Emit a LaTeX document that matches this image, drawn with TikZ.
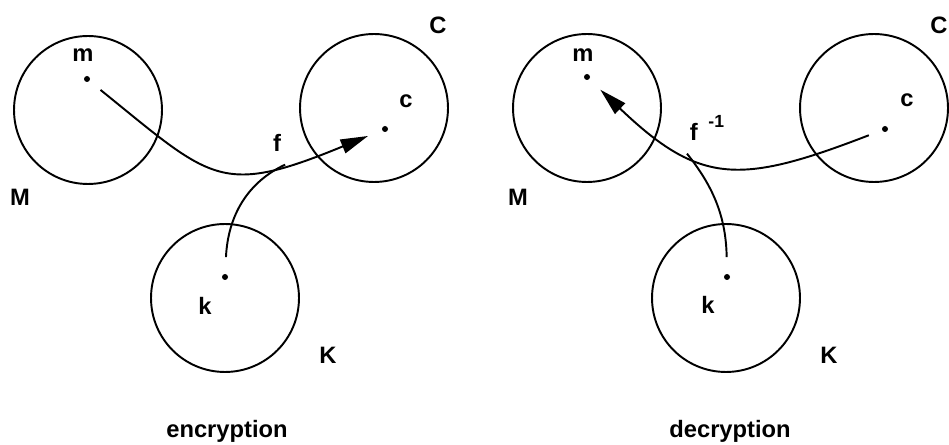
\documentclass[tikz,border=0pt]{standalone}
\usepackage{fontspec}
\setmainfont{Liberation Sans}
\usetikzlibrary{arrows.meta}

\begin{document}
\begin{tikzpicture}[
  x=0.02cm,y=-0.02cm,
  set/.style={draw, circle, line width=1.1pt, minimum size=2.96cm, inner sep=0pt},
  elem/.style={fill, circle, minimum size=0.12cm, inner sep=0pt},
  lbl/.style={font=\fontsize{13.5}{16}\selectfont\bfseries, inner sep=0pt},
  arr/.style={-{Triangle[length=0.55cm,width=0.29cm]}, line width=1.1pt, shorten <=0.28cm, shorten >=0.3cm},
  feed/.style={line width=1.1pt, shorten <=0.33cm}
]
\useasboundingbox (0,0) rectangle (949,445);
% encryption
\node[set] (setM1) at (88,110) {};
\node[set] (setC1) at (374,108) {};
\node[set] (setK1) at (225,298) {};
\node[elem] (m1) at (87,79) {};
\node[elem] (c1) at (385,129) {};
\node[elem] (k1) at (225,277) {};
\node[lbl] (lm1) at (83,55) {m};
\node[lbl] (lM1) at (20,197) {M};
\node[lbl] (lC1) at (438,25) {C};
\node[lbl] (lc1) at (406,101) {c};
\node[lbl] (lk1) at (205,306) {k};
\node[lbl] (lK1) at (328,355) {K};
\node[lbl] (lf1) at (277,143) {f};
\node[lbl] (enc) at (227,431) {encryption};
\draw[arr] (m1) .. controls (212,180) and (220,197) .. coordinate[pos=0.75] (join1) (c1);
\draw[feed] (k1) .. controls (228,215) and (248,182) .. (join1);
% decryption
\node[set] (setM2) at (587,108) {};
\node[set] (setC2) at (874,108) {};
\node[set] (setK2) at (726,298) {};
\node[elem] (m2) at (587,77) {};
\node[elem] (c2) at (885,129) {};
\node[elem] (k2) at (727,277) {};
\node[lbl] (lm2) at (583,55) {m};
\node[lbl] (lM2) at (518,197) {M};
\node[lbl] (lC2) at (939,25) {C};
\node[lbl] (lc2) at (907,100) {c};
\node[lbl] (lk2) at (708,305) {k};
\node[lbl] (lK2) at (829,355) {K};
\node[lbl] (lf2) at (707,128) {f\hspace{0.45em}\raisebox{0.55em}{\fontsize{10}{12}\selectfont -1}};
\node[lbl] (dec) at (730,431) {decryption};
\draw[arr] (c2) .. controls (740,185) and (700,185) .. coordinate[pos=0.65] (join2) (m2);
\draw[feed] (k2) .. controls (726,215) and (712,185) .. (join2);
\end{tikzpicture}
\end{document}
